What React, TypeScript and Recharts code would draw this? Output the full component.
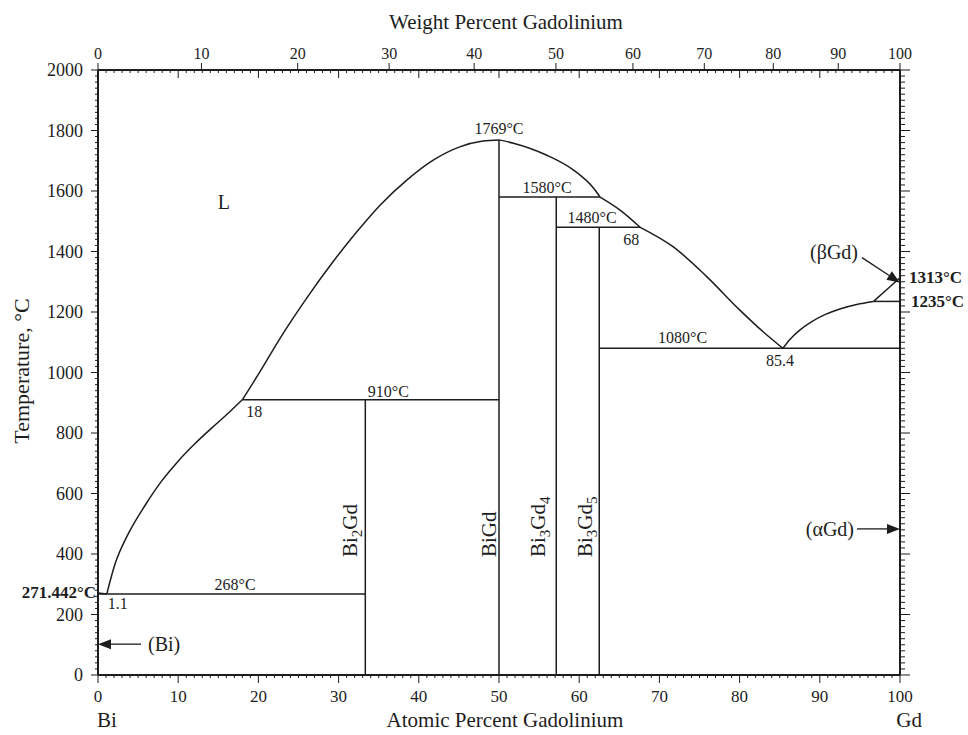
import React from "react";
import { ComposedChart, Line, XAxis, YAxis, ReferenceDot } from "recharts";

const SERIF = '"Liberation Serif", "Times New Roman", Times, serif';
const INK = "#1d1d1d";

// liquidus branches: x = atomic % Gd, t = °C
const liquidusBi = [
  { x: 0, t: 271.442 },
  { x: 1.1, t: 268 },
];
const liquidusBi2Gd = [
  { x: 1.1, t: 268 },
  { x: 2.1, t: 365 },
  { x: 3.8, t: 468 },
  { x: 5.9, t: 562 },
  { x: 7.9, t: 640 },
  { x: 10.0, t: 707 },
  { x: 12.1, t: 765 },
  { x: 14.2, t: 817 },
  { x: 16.3, t: 867 },
  { x: 18, t: 910 },
];
const liquidusBiGdLeft = [
  { x: 18, t: 910 },
  { x: 20.2, t: 1003 },
  { x: 22.7, t: 1113 },
  { x: 26.0, t: 1245 },
  { x: 29.3, t: 1366 },
  { x: 32.3, t: 1466 },
  { x: 35.2, t: 1554 },
  { x: 38.5, t: 1636 },
  { x: 41.8, t: 1702 },
  { x: 45.1, t: 1746 },
  { x: 48.0, t: 1765 },
  { x: 50, t: 1769 },
];
const liquidusBiGdRight = [
  { x: 50, t: 1769 },
  { x: 51.8, t: 1758 },
  { x: 55.9, t: 1719 },
  { x: 59.3, t: 1669 },
  { x: 61.8, t: 1609 },
  { x: 62.6, t: 1580 },
];
const liquidusBi3Gd4 = [
  { x: 62.6, t: 1580 },
  { x: 65.1, t: 1537 },
  { x: 67.6, t: 1480 },
];
const liquidusBi3Gd5 = [
  { x: 67.6, t: 1480 },
  { x: 71.7, t: 1416 },
  { x: 75.9, t: 1317 },
  { x: 80.0, t: 1207 },
  { x: 83.0, t: 1133 },
  { x: 85.4, t: 1080 },
];
const liquidusAlphaGd = [
  { x: 85.4, t: 1080 },
  { x: 86.3, t: 1110 },
  { x: 87.5, t: 1140 },
  { x: 89.0, t: 1168 },
  { x: 90.7, t: 1192 },
  { x: 92.6, t: 1211 },
  { x: 94.6, t: 1225 },
  { x: 96.7, t: 1235 },
];
const liquidusBetaGd = [
  { x: 96.7, t: 1235 },
  { x: 98.4, t: 1275 },
  { x: 100, t: 1313 },
];

// invariant reactions
const eutectic268 = [
  { x: 0, t: 268 },
  { x: 33.33, t: 268 },
];
const peritectic910 = [
  { x: 18, t: 910 },
  { x: 50, t: 910 },
];
const peritectic1580 = [
  { x: 50, t: 1580 },
  { x: 62.6, t: 1580 },
];
const peritectic1480 = [
  { x: 57.14, t: 1480 },
  { x: 67.6, t: 1480 },
];
const eutectic1080 = [
  { x: 62.5, t: 1080 },
  { x: 100, t: 1080 },
];
const transition1235 = [
  { x: 96.7, t: 1235 },
  { x: 100, t: 1235 },
];

// line compounds
const compoundNames = ["Bi2Gd", "BiGd", "Bi3Gd4", "Bi3Gd5"];
const compoundAt = [33.33, 50, 57.14, 62.5];
const compoundTop = [910, 1769, 1580, 1480];

// axes
const atomicTicks = Array.from({ length: 101 }, (_, i) => i);
const tempTicks = Array.from({ length: 101 }, (_, i) => i * 20);
const weightLabels = [0, 10, 20, 30, 40, 50, 60, 70, 80, 90, 100];
const weightTickAt = [0, 12.9, 24.9, 36.3, 46.9, 57.1, 66.7, 75.6, 84.2, 92.3, 100];
const topTicks = Array.from(new Set([...atomicTicks, ...weightTickAt])).sort((a, b) => a - b);

const axisStroke = { stroke: INK, strokeWidth: 2 };

function AtomicTick(props: any) {
  const { x, y, payload } = props;
  const v = payload.value;
  const major = v % 10 === 0;
  return (
    <g>
      <line x1={x} x2={x} y1={y} y2={y + (major ? 8 : 3)} stroke={INK} strokeWidth={1} />
      {major && (
        <text x={x} y={y + 27} textAnchor="middle" fontSize={17} fontFamily={SERIF} fill={INK}>
          {v}
        </text>
      )}
    </g>
  );
}

function WeightTick(props: any) {
  const { x, y, payload } = props;
  const v = payload.value;
  const wi = weightTickAt.indexOf(v);
  const atomic = Number.isInteger(v);
  return (
    <g>
      {atomic && (
        <line x1={x} x2={x} y1={y} y2={y + (v % 10 === 0 ? 8 : 3)} stroke={INK} strokeWidth={1} />
      )}
      {wi >= 0 && (
        <g>
          <line x1={x} x2={x} y1={y} y2={y - 7} stroke={INK} strokeWidth={1} />
          <text x={x} y={y - 11} textAnchor="middle" fontSize={16} fontFamily={SERIF} fill={INK}>
            {weightLabels[wi]}
          </text>
        </g>
      )}
    </g>
  );
}

function TempTick(props: any) {
  const { x, y, payload } = props;
  const v = payload.value;
  const major = v % 200 === 0;
  return (
    <g>
      <line x1={x} x2={x - (major ? 7 : 3)} y1={y} y2={y} stroke={INK} strokeWidth={1} />
      {major && (
        <text x={x - 15} y={y + 6} textAnchor="end" fontSize={18} fontFamily={SERIF} fill={INK}>
          {v}
        </text>
      )}
    </g>
  );
}

function TempTickRight(props: any) {
  const { x, y, payload } = props;
  const major = payload.value % 200 === 0;
  return <line x1={x} x2={x + (major ? 10 : 5)} y1={y} y2={y} stroke={INK} strokeWidth={1} />;
}

// text placed at a data point, shifted by dx/dy pixels
const textAt =
  (label: React.ReactNode, dx: number, dy: number, opts: any = {}) =>
  (p: any) =>
    (
      <text
        x={p.cx + dx}
        y={p.cy + dy}
        textAnchor={opts.anchor ?? "middle"}
        fontSize={opts.size ?? 16}
        fontWeight={opts.bold ? "bold" : "normal"}
        fontFamily={SERIF}
        fill={INK}
      >
        {label}
      </text>
    );

// vertical compound name reading upward, starting at the anchor
const compoundLabel = (name: string, dx: number) => (p: any) => {
  const x = p.cx + dx;
  const y = p.cy;
  const parts = name.match(/[A-Z][a-z]*|\d+/g) || [];
  return (
    <text
      x={x}
      y={y}
      transform={`rotate(-90 ${x} ${y})`}
      fontSize={21}
      fontFamily={SERIF}
      fill={INK}
    >
      {parts.map((s, i) =>
        /\d/.test(s) ? (
          <tspan key={i} dy={5} fontSize={15}>
            {s}
          </tspan>
        ) : (
          <tspan key={i} dy={i > 0 && /\d/.test(parts[i - 1]) ? -5 : 0}>
            {s}
          </tspan>
        )
      )}
    </text>
  );
};

// arrow whose tip sits on the data point
const arrowAt =
  (label: string, vx: number, vy: number, tx: number, ty: number, anchor: string) =>
  (p: any) => {
    const { cx, cy } = p;
    const len = Math.hypot(vx, vy);
    const ux = -vx / len;
    const uy = -vy / len;
    const bx = cx - ux * 13;
    const by = cy - uy * 13;
    const head = `${cx},${cy} ${bx - uy * 5},${by + ux * 5} ${bx + uy * 5},${by - ux * 5}`;
    return (
      <g>
        <line x1={cx + vx} y1={cy + vy} x2={bx} y2={by} stroke={INK} strokeWidth={1.3} />
        <polygon points={head} fill={INK} />
        <text x={cx + tx} y={cy + ty} textAnchor={anchor} fontSize={20} fontFamily={SERIF} fill={INK}>
          {label}
        </text>
      </g>
    );
  };

const curves = [
  liquidusBi,
  liquidusBi2Gd,
  liquidusBiGdLeft,
  liquidusBiGdRight,
  liquidusBi3Gd4,
  liquidusBi3Gd5,
];
const straights = [eutectic268, peritectic910, peritectic1580, peritectic1480];
const compoundLines = compoundAt.map((x, i) => [
  { x, t: 0 },
  { x, t: compoundTop[i] },
]);

export default function App() {
  const lineProps = {
    dataKey: "t",
    stroke: INK,
    strokeWidth: 1.5,
    dot: false,
    activeDot: false,
    isAnimationActive: false,
    xAxisId: "at",
    yAxisId: "t",
  } as const;

  return (
    <div
      style={{
        position: "absolute",
        left: 0,
        top: 0,
        width: 968,
        height: 735,
        background: "#fff",
        fontFamily: SERIF,
      }}
    >
      <ComposedChart width={968} height={735} margin={{ top: 30, right: 28, bottom: 20, left: 38 }}>
        <XAxis
          xAxisId="at"
          type="number"
          dataKey="x"
          domain={[0, 100]}
          ticks={atomicTicks}
          interval={0}
          tickSize={0}
          tickMargin={0}
          tick={AtomicTick}
          height={40}
          axisLine={axisStroke}
          allowDataOverflow
        />
        <XAxis
          xAxisId="wt"
          orientation="top"
          type="number"
          dataKey="x"
          domain={[0, 100]}
          ticks={topTicks}
          interval={0}
          tickSize={0}
          tickMargin={0}
          tick={WeightTick}
          height={40}
          axisLine={axisStroke}
          allowDataOverflow
        />
        <YAxis
          yAxisId="t"
          type="number"
          dataKey="t"
          domain={[0, 2000]}
          ticks={tempTicks}
          interval={0}
          tickSize={0}
          tickMargin={0}
          tick={TempTick}
          width={60}
          axisLine={axisStroke}
          allowDataOverflow
        />
        <YAxis
          yAxisId="tr"
          orientation="right"
          type="number"
          dataKey="t"
          domain={[0, 2000]}
          ticks={tempTicks}
          interval={0}
          tickSize={0}
          tickMargin={0}
          tick={TempTickRight}
          width={40}
          axisLine={axisStroke}
          allowDataOverflow
        />

        {curves.map((d, i) => (
          <Line key={`c${i}`} {...lineProps} data={d} type="monotone" />
        ))}
        {straights.map((d, i) => (
          <Line key={`s${i}`} {...lineProps} data={d} type="linear" />
        ))}
        {compoundLines.map((d, i) => (
          <Line key={`p${i}`} {...lineProps} data={d} type="linear" />
        ))}
        {/* Gd-rich side drawn on the top/right axis pair */}
        <Line {...lineProps} xAxisId="wt" yAxisId="tr" data={eutectic1080} type="linear" />
        <Line {...lineProps} xAxisId="wt" yAxisId="tr" data={transition1235} type="linear" />
        <Line {...lineProps} xAxisId="wt" yAxisId="tr" data={liquidusAlphaGd} type="monotone" />
        <Line {...lineProps} xAxisId="wt" yAxisId="tr" data={liquidusBetaGd} type="monotone" />

        {/* reaction temperatures and compositions */}
        <ReferenceDot xAxisId="at" yAxisId="t" x={50} y={liquidusBiGdLeft[11].t} shape={textAt(`${liquidusBiGdLeft[11].t}°C`, 0, -6)} />
        <ReferenceDot xAxisId="at" yAxisId="t" x={56.0} y={peritectic1580[0].t} shape={textAt(`${peritectic1580[0].t}°C`, 0, -4)} />
        <ReferenceDot xAxisId="at" yAxisId="t" x={61.6} y={peritectic1480[0].t} shape={textAt(`${peritectic1480[0].t}°C`, 0, -4)} />
        <ReferenceDot xAxisId="at" yAxisId="t" x={67.6} y={peritectic1480[1].t} shape={textAt("68", -9, 18)} />
        <ReferenceDot xAxisId="at" yAxisId="t" x={36.2} y={peritectic910[0].t} shape={textAt(`${peritectic910[0].t}°C`, 0, -3)} />
        <ReferenceDot xAxisId="at" yAxisId="t" x={18} y={peritectic910[0].t} shape={textAt("18", 12, 17)} />
        <ReferenceDot xAxisId="at" yAxisId="t" x={17.1} y={eutectic268[0].t} shape={textAt(`${eutectic268[0].t}°C`, 0, -4)} />
        <ReferenceDot xAxisId="at" yAxisId="t" x={1.1} y={eutectic268[0].t} shape={textAt("1.1", 11, 15)} />
        <ReferenceDot xAxisId="at" yAxisId="t" x={72.9} y={eutectic1080[0].t} shape={textAt(`${eutectic1080[0].t}°C`, 0, -5)} />
        <ReferenceDot xAxisId="at" yAxisId="t" x={85.4} y={eutectic1080[0].t} shape={textAt("85.4", -3, 18)} />
        <ReferenceDot xAxisId="at" yAxisId="t" x={15.7} y={1540} shape={textAt("L", 0, 0, { size: 20 })} />

        {/* pure-element temperatures on the frame */}
        <ReferenceDot xAxisId="at" yAxisId="t" x={0} y={liquidusBi[0].t} shape={textAt(`${liquidusBi[0].t}°C`, -2, 5, { anchor: "end", bold: true, size: 17 })} />
        <ReferenceDot xAxisId="at" yAxisId="t" x={100} y={liquidusBetaGd[2].t} shape={textAt(`${liquidusBetaGd[2].t}°C`, 9, 5, { anchor: "start", bold: true, size: 17 })} />
        <ReferenceDot xAxisId="at" yAxisId="t" x={100} y={transition1235[0].t} shape={textAt(`${transition1235[0].t}°C`, 11, 6, { anchor: "start", bold: true, size: 17 })} />

        {/* compound names */}
        <ReferenceDot xAxisId="at" yAxisId="t" x={compoundAt[0]} y={390} shape={compoundLabel(compoundNames[0], -8)} />
        <ReferenceDot xAxisId="at" yAxisId="t" x={compoundAt[1]} y={390} shape={compoundLabel(compoundNames[1], -3)} />
        <ReferenceDot xAxisId="at" yAxisId="t" x={compoundAt[2]} y={390} shape={compoundLabel(compoundNames[2], -11)} />
        <ReferenceDot xAxisId="at" yAxisId="t" x={compoundAt[3]} y={390} shape={compoundLabel(compoundNames[3], -7)} />

        {/* solid solution pointers */}
        <ReferenceDot xAxisId="at" yAxisId="t" x={0} y={102} shape={arrowAt("(Bi)", 43, 0, 50, 7, "start")} />
        <ReferenceDot xAxisId="at" yAxisId="t" x={100} y={483} shape={arrowAt("(αGd)", -43, 0, -46, 7, "end")} />
        <ReferenceDot xAxisId="at" yAxisId="t" x={100} y={1297} shape={arrowAt("(βGd)", -38, -25, -42, -24, "end")} />
      </ComposedChart>

      <svg
        width={968}
        height={735}
        style={{ position: "absolute", left: 0, top: 0, pointerEvents: "none" }}
        fontFamily={SERIF}
        fill={INK}
      >
        <text x={506} y={29} textAnchor="middle" fontSize={21}>
          Weight Percent Gadolinium
        </text>
        <text x={505} y={727} textAnchor="middle" fontSize={21}>
          Atomic Percent Gadolinium
        </text>
        <text x={97} y={727} fontSize={21}>
          Bi
        </text>
        <text x={922} y={727} textAnchor="end" fontSize={21}>
          Gd
        </text>
        <text x={29} y={371} textAnchor="middle" fontSize={22} transform="rotate(-90 29 371)">
          Temperature, °C
        </text>
      </svg>
    </div>
  );
}
